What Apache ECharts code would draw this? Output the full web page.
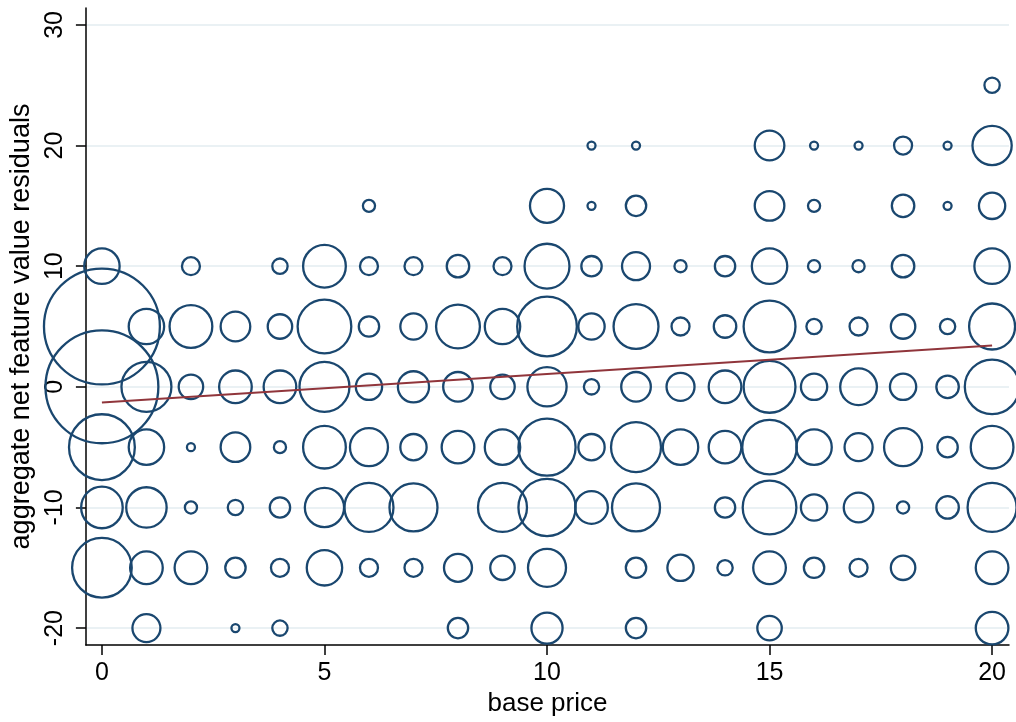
<!DOCTYPE html>
<html>
<head>
<meta charset="utf-8">
<script src="https://cdn.jsdelivr.net/npm/echarts@6/dist/echarts.min.js"></script>
<style>
html,body{margin:0;padding:0;background:#fff;}
#chart{width:1016px;height:722px;}
</style>
</head>
<body>
<div id="chart"></div>
<script>
// base price categories (x)
const basePrices = [0,1,2,3,4,5,6,7,8,9,10,11,12,13,14,15,16,17,18,19,20];
// residual levels (y)
const residualLevels = [25,20,15,10,5,0,-5,-10,-15,-20];
// frequency weights per residual level, one entry per base price (0 = no observation)
const countsAt25  = [0,0,0,0,0,0,0,0,0,0,0,0,0,0,0,0,0,0,0,0,3];
const countsAt20  = [0,0,0,0,0,0,0,0,0,0,0,1,1,0,0,10,1,1,4,1,17];
const countsAt15  = [0,0,0,0,0,0,2,0,0,0,13,1,5,0,0,10,2,0,6,1,8];
const countsAt10  = [14,0,4,0,3,20,4,4,6,4,22,5,9,2,5,14,2,2,6,0,14];
const countsAt5   = [139,14,20,10,7,31,5,8,21,14,38,8,22,4,6,29,3,4,7,3,23];
const countsAt0   = [132,27,7,12,12,27,8,11,10,7,17,3,10,9,12,29,8,15,8,6,32];
const countsAtM5  = [46,14,1,10,2,20,16,8,12,14,35,8,27,14,12,32,14,9,16,5,20];
const countsAtM10 = [19,18,2,3,5,17,26,25,0,26,35,12,25,0,5,31,8,10,2,6,26];
const countsAtM15 = [38,12,12,5,4,14,4,4,9,7,16,0,5,8,3,12,5,4,7,0,12];
const countsAtM20 = [0,9,0,1,3,0,0,0,5,0,11,0,5,0,0,7,0,0,0,0,12];
const countRows = [countsAt25,countsAt20,countsAt15,countsAt10,countsAt5,countsAt0,countsAtM5,countsAtM10,countsAtM15,countsAtM20];
// fitted line
const fitX = [0, 20];
const fitY = [-1.30, 3.42];
// ticks
const xTicks = [0,5,10,15,20];
const yTicks = [-20,-10,0,10,20,30];

const bubbleData = [];
residualLevels.forEach((y, r) => {
  countRows[r].forEach((n, i) => {
    if (n > 0) bubbleData.push([basePrices[i], y, n]);
  });
});
const fitData = fitX.map((x, i) => [x, fitY[i]]);

const FONT = 'Liberation Sans, Arial, sans-serif';
const chart = echarts.init(document.getElementById('chart'), null, {renderer: 'canvas'});
chart.setOption({
  animation: false,
  backgroundColor: '#ffffff',
  grid: {left: 84, right: 7, top: 8, bottom: 77, containLabel: false},
  xAxis: {
    type: 'value', min: -0.36, max: 20.38,
    name: 'base price', nameLocation: 'middle', nameGap: 44,
    nameTextStyle: {fontFamily: FONT, fontSize: 26, color: '#000'},
    axisLine: {show: true, onZero: false, lineStyle: {color: '#000', width: 1.5}},
    axisTick: {show: true, length: 10, customValues: xTicks, lineStyle: {color: '#000', width: 1.5}},
    axisLabel: {customValues: xTicks, fontFamily: FONT, fontSize: 25, color: '#000', margin: 16},
    splitLine: {show: false}
  },
  yAxis: {
    type: 'value', min: -21.4, max: 31.4,
    name: 'aggregate net feature value residuals', nameLocation: 'middle', nameGap: 50, nameRotate: 90,
    nameTextStyle: {fontFamily: FONT, fontSize: 27, color: '#000'},
    axisLine: {show: true, onZero: false, lineStyle: {color: '#000', width: 1.5}},
    axisTick: {show: true, length: 10, customValues: yTicks, lineStyle: {color: '#000', width: 1.5}},
    axisLabel: {customValues: yTicks, rotate: 90, fontFamily: FONT, fontSize: 25, color: '#000', margin: 18},
    splitLine: {show: false}
  },
  series: [
    {
      type: 'line', data: [], silent: true, z: 0,
      markLine: {
        z: 0, zlevel: 0,
        silent: true, symbol: ['none','none'], label: {show: false},
        lineStyle: {color: '#eaf1f4', width: 2, type: 'solid'},
        data: yTicks.map(v => ({yAxis: v}))
      }
    },
    {
      type: 'scatter', z: 3,
      data: bubbleData,
      symbol: 'circle',
      symbolSize: v => 10 * Math.sqrt(v[2]) - 2,
      itemStyle: {color: 'rgba(0,0,0,0)', borderColor: '#1a476f', borderWidth: 2.3, opacity: 1},
      silent: true
    },
    {
      type: 'line', z: 4, data: fitData, symbol: 'none', silent: true,
      lineStyle: {color: '#90353b', width: 2}
    }
  ]
});
</script>
</body>
</html>
